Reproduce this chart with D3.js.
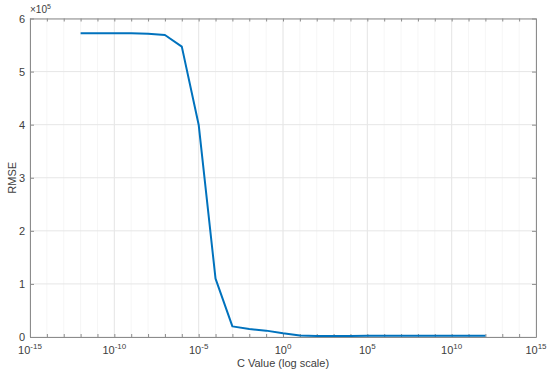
<!DOCTYPE html>
<html lang="en">
<head>
<meta charset="utf-8">
<title>RMSE vs C</title>
<script src="https://cdn.jsdelivr.net/npm/d3@7"></script>
<style>
  body { margin: 0; background: #fff; }
  text { font-family: "Liberation Sans", Arial, sans-serif; fill: #404040; }
</style>
</head>
<body>
<script>
// data: C exponents and RMSE (x 1e5)
let cExp = [-12,-11,-10,-9,-8,-7,-6,-5,-4,-3,-2,-1,0,1,2,3,4,5,6,7,8,9,10,11,12];
let rmse = [5.72,5.72,5.72,5.72,5.715,5.69,5.47,4.0,1.1,0.2,0.15,0.12,0.07,0.03,0.02,0.02,0.02,0.025,0.025,0.025,0.025,0.025,0.025,0.025,0.025];
let xTicks = [-15,-10,-5,0,5,10,15];
let yTicks = [0,1,2,3,4,5,6];

let w = 550, h = 375;
let m = {top: 18.5, right: 14, bottom: 38, left: 30};

let svg = d3.select("body").append("svg").attr("width", w).attr("height", h);

let x = d3.scaleLog().domain([1e-15, 1e15]).range([m.left, w - m.right]);
let y = d3.scaleLinear().domain([0, 6]).range([h - m.bottom, m.top]);

let decades = d3.range(-15, 16).map(e => Math.pow(10, e));

//Grid
let g = svg.append("g");
g.selectAll(".vminor").data(decades).enter().append("line")
  .attr("x1", d => x(d)).attr("x2", d => x(d))
  .attr("y1", m.top).attr("y2", h - m.bottom)
  .attr("stroke", "#ececec").attr("stroke-width", 1)
  .attr("stroke-dasharray", "1,1");
g.selectAll(".vmajor").data(xTicks).enter().append("line")
  .attr("x1", d => x(Math.pow(10, d))).attr("x2", d => x(Math.pow(10, d)))
  .attr("y1", m.top).attr("y2", h - m.bottom)
  .attr("stroke", "#e6e6e6").attr("stroke-width", 1);
g.selectAll(".hmajor").data(yTicks).enter().append("line")
  .attr("x1", m.left).attr("x2", w - m.right)
  .attr("y1", d => y(d)).attr("y2", d => y(d))
  .attr("stroke", "#e6e6e6").attr("stroke-width", 1);

//Axes (ticks inward)
let fmtSup = e => e;
let xAxis = svg.append("g").attr("transform", `translate(0,${h - m.bottom})`)
  .call(d3.axisBottom(x).tickValues(decades).tickSizeInner(-3).tickSizeOuter(0).tickFormat(""));
let xTop = svg.append("g").attr("transform", `translate(0,${m.top})`)
  .call(d3.axisTop(x).tickValues(decades).tickSizeInner(-3).tickSizeOuter(0).tickFormat(""));
let yAxis = svg.append("g").attr("transform", `translate(${m.left},0)`)
  .call(d3.axisLeft(y).tickValues(yTicks).tickSizeInner(-4).tickSizeOuter(0).tickFormat(""));
let yRight = svg.append("g").attr("transform", `translate(${w - m.right},0)`)
  .call(d3.axisRight(y).tickValues(yTicks).tickSizeInner(-4).tickSizeOuter(0).tickFormat(""));
svg.selectAll(".domain, .tick line").attr("stroke", "#8c8c8c");

//Tick labels
let xl = svg.append("g").selectAll("text").data(xTicks).enter().append("text")
  .attr("x", d => x(Math.pow(10, d)))
  .attr("y", h - m.bottom + 17)
  .attr("text-anchor", "middle")
  .style("font-size", "11px");
xl.append("tspan").text("10");
xl.append("tspan").attr("dy", -5).style("font-size", "8px").text(d => d < 0 ? "-" + Math.abs(d) : d);

svg.append("g").selectAll("text").data(yTicks).enter().append("text")
  .attr("x", m.left - 5).attr("y", d => y(d) + 4)
  .attr("text-anchor", "end")
  .style("font-size", "11px")
  .text(d => d);

let ex = svg.append("text").attr("x", m.left).attr("y", 13).style("font-size", "10px");
ex.append("tspan").text("\u00d710");
ex.append("tspan").attr("dy", -4).style("font-size", "7px").text("5");

//Labels
svg.append("text").attr("x", (m.left + w - m.right) / 2).attr("y", h - 8)
  .attr("text-anchor", "middle").style("font-size", "11px").text("C Value (log scale)");
svg.append("text").attr("transform", `translate(16,${(m.top + h - m.bottom) / 2}) rotate(-90)`)
  .attr("text-anchor", "middle").style("font-size", "11px").text("RMSE");

//Line
let line = d3.line().x((d, i) => x(Math.pow(10, cExp[i]))).y(d => y(d));
svg.append("path").datum(rmse).attr("d", line)
  .attr("fill", "none").attr("stroke", "#0072BD").attr("stroke-width", 2)
  .attr("stroke-linejoin", "round");
</script>
</body>
</html>
